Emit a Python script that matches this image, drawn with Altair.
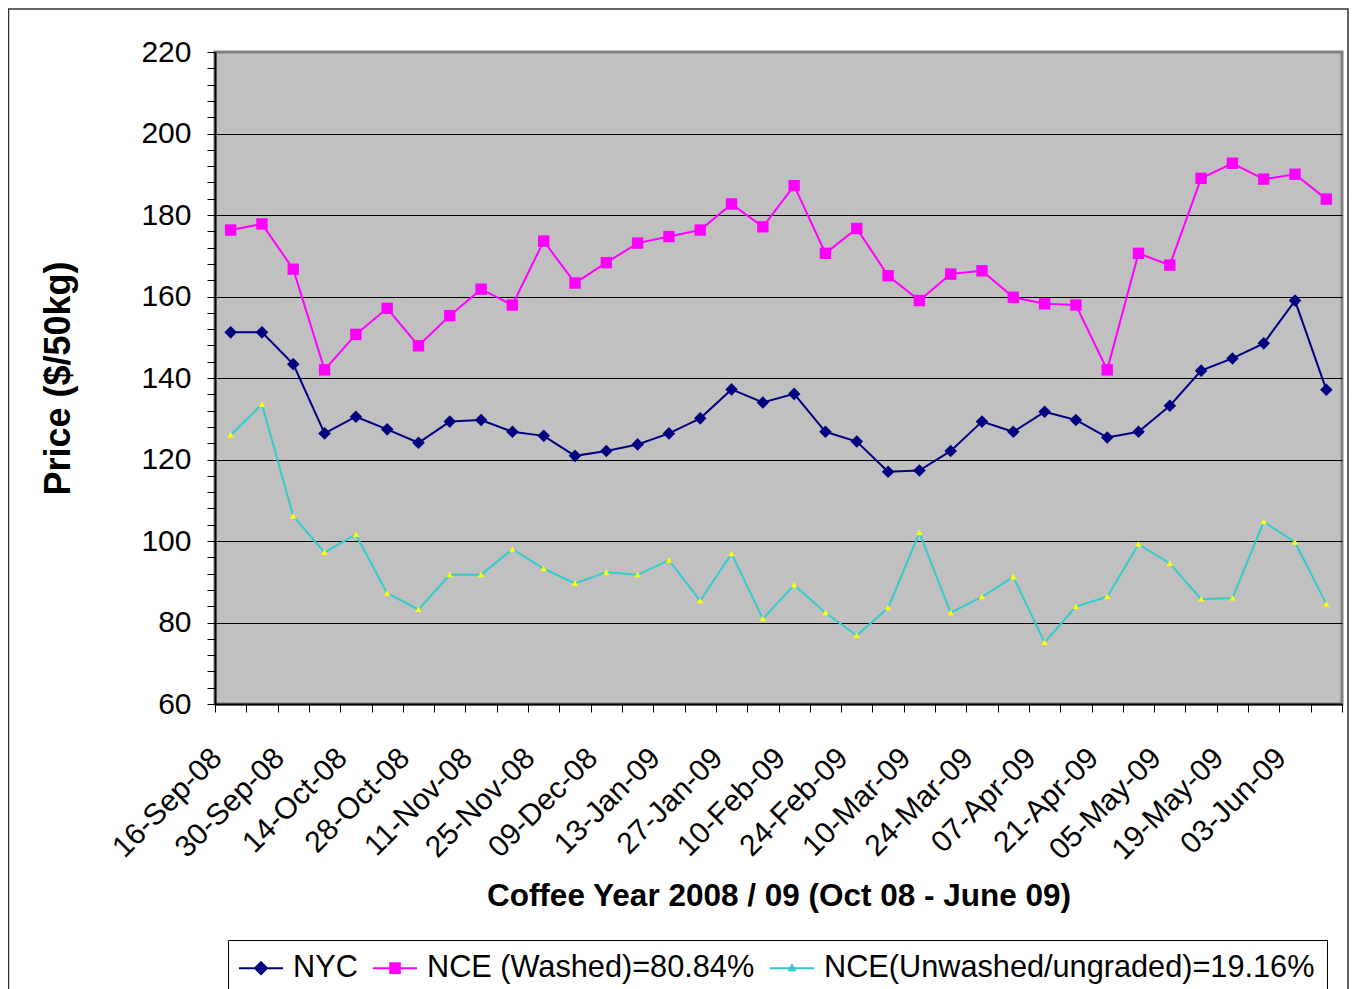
import altair as alt
import pandas as pd

# ---------------- data ----------------
dates = ["16-Sep-08", "23-Sep-08", "30-Sep-08", "07-Oct-08", "14-Oct-08", "21-Oct-08",
         "28-Oct-08", "04-Nov-08", "11-Nov-08", "18-Nov-08", "25-Nov-08", "02-Dec-08",
         "09-Dec-08", "16-Dec-08", "13-Jan-09", "20-Jan-09", "27-Jan-09", "03-Feb-09",
         "10-Feb-09", "17-Feb-09", "24-Feb-09", "03-Mar-09", "10-Mar-09", "17-Mar-09",
         "24-Mar-09", "31-Mar-09", "07-Apr-09", "14-Apr-09", "21-Apr-09", "28-Apr-09",
         "05-May-09", "12-May-09", "19-May-09", "26-May-09", "03-Jun-09", "10-Jun-09"]

shown_labels = ["16-Sep-08", "30-Sep-08", "14-Oct-08", "28-Oct-08", "11-Nov-08", "25-Nov-08",
                "09-Dec-08", "13-Jan-09", "27-Jan-09", "10-Feb-09", "24-Feb-09", "10-Mar-09",
                "24-Mar-09", "07-Apr-09", "21-Apr-09", "05-May-09", "19-May-09", "03-Jun-09"]

nyc = [151.2, 151.2, 143.4, 126.4, 130.5, 127.4, 124.1, 129.3, 129.7, 126.8, 125.8, 120.9,
       122.1, 123.7, 126.4, 130.1, 137.2, 134.0, 136.1, 126.8, 124.4, 117.0, 117.3, 122.1,
       129.3, 126.8, 131.7, 129.7, 125.4, 126.8, 133.2, 141.8, 144.8, 148.5, 159.0, 137.1]

washed = [176.3, 177.8, 166.7, 142.0, 150.7, 157.1, 147.9, 155.3, 161.8, 157.9, 173.6, 163.3,
          168.3, 173.1, 174.7, 176.3, 182.7, 177.1, 187.2, 170.6, 176.7, 165.1, 159.0, 165.5,
          166.3, 159.8, 158.2, 157.9, 142.0, 170.6, 167.7, 189.0, 192.7, 188.8, 190.0, 183.9]

unwashed = [126.0, 133.5, 106.1, 97.2, 101.6, 87.2, 83.2, 91.7, 91.7, 98.0, 93.2, 89.6,
            92.3, 91.7, 95.3, 85.3, 96.9, 80.9, 89.2, 82.4, 76.8, 83.6, 102.0, 82.4,
            86.3, 91.2, 75.1, 83.9, 86.3, 99.2, 94.5, 85.7, 86.0, 104.7, 99.7, 84.5]

series_names = ["NYC", "NCE (Washed)=80.84%", "NCE(Unwashed/ungraded)=19.16%"]
series_values = [nyc, washed, unwashed]

line_colors = ["#000080", "#FF00FF", "#33CCCC"]
marker_colors = ["#000080", "#FF00FF", "#FFFF00"]
marker_paths = [
    "M0,-1.05L1.05,0L0,1.05L-1.05,0Z",
    "M-0.95,-0.95H0.95V0.95H-0.95Z",
    "M0,-0.5L0.52,0.42L-0.52,0.42Z",
]
legend_paths = [
    "M-1.47,0H1.47M0,-0.4L0.4,0L0,0.4L-0.4,0Z",
    "M-1.47,0H1.47M-0.32,-0.32H0.32V0.32H-0.32Z",
    "M-1.47,0H1.47M0,-0.2L0.2,0.14L-0.2,0.14Z",
]

rows = []
for name, vals in zip(series_names, series_values):
    for d, v in zip(dates, vals):
        rows.append({"date": d, "series": name, "value": v})
df = pd.DataFrame(rows)

FONT = "Liberation Sans"

label_list = "[" + ",".join("'" + s + "'" for s in shown_labels) + "]"

x_enc = alt.X(
    "date:N",
    sort=dates,
    scale=alt.Scale(type="band", domain=dates, paddingInner=0, paddingOuter=0),
    axis=alt.Axis(
        title="Coffee Year 2008 / 09 (Oct 08 - June 09)",
        titleFont=FONT, titleFontSize=31.5, titleFontWeight="bold", titleColor="black",
        titleY=192, titleBaseline="middle",
        labelExpr="indexof(" + label_list + ", datum.value) >= 0 ? datum.label : ''",
        labelAngle=315, labelAlign="right", labelBaseline="middle",
        labelOffset=-14, labelPadding=41, labelOverlap=False, labelBound=False,
        labelFont=FONT, labelFontSize=30, labelColor="black",
        tickBand="extent", tickSize=8, tickColor="black", tickWidth=1,
        domainColor="black", domainWidth=2, grid=False,
    ),
)

y_enc = alt.Y(
    "value:Q",
    scale=alt.Scale(domain=[60, 220], nice=False, zero=False),
    axis=alt.Axis(
        title="Price ($/50kg)",
        titleFont=FONT, titleFontSize=36, titleFontWeight="bold", titleColor="black",
        titleAngle=270, titleX=-157, titleY=326, titleBaseline="middle", titleAlign="center",
        values=list(range(60, 221, 4)),
        labelExpr="datum.value % 20 === 0 ? datum.label : ''",
        labelFont=FONT, labelFontSize=30, labelColor="black", labelPadding=16,
        tickSize=8, tickColor="black", tickWidth=1,
        domainColor="black", domainWidth=2,
        grid=True, gridColor="black", gridWidth=1,
        gridOpacity={"condition": {"test": "datum.value % 20 === 0 && datum.value > 60 && datum.value < 220",
                                   "value": 1}, "value": 0},
    ),
)

base = alt.Chart(df)

frame = alt.Chart(alt.Data(values=[{"a": 1}])).mark_rect(
    fillOpacity=0, stroke="#333333", strokeWidth=1.5
).encode(
    x=alt.value(-206.5), x2=alt.value(1133), y=alt.value(-43), y2=alt.value(960)
)

lines = base.mark_line(strokeWidth=2).encode(
    x=x_enc, y=y_enc,
    stroke=alt.Stroke("series:N", scale=alt.Scale(domain=series_names, range=line_colors), legend=None),
)

markers = base.mark_point(filled=True, opacity=1, size=144, strokeWidth=0).encode(
    x=x_enc, y=y_enc,
    fill=alt.Fill("series:N", scale=alt.Scale(domain=series_names, range=marker_colors), legend=None),
    shape=alt.Shape("series:N", scale=alt.Scale(domain=series_names, range=marker_paths), legend=None),
)

leg = alt.Legend(title=None)
legend_layer = base.transform_filter("false").mark_point(filled=True, opacity=1).encode(
    x=x_enc, y=y_enc,
    fill=alt.Fill("series:N", scale=alt.Scale(domain=series_names, range=marker_colors), legend=leg),
    stroke=alt.Stroke("series:N", scale=alt.Scale(domain=series_names, range=line_colors), legend=leg),
    shape=alt.Shape("series:N", scale=alt.Scale(domain=series_names, range=legend_paths), legend=leg),
)

chart = alt.layer(frame, lines, markers, legend_layer).resolve_scale(
    fill="independent", stroke="independent", shape="independent"
).properties(
    width=1127, height=652,
    autosize=alt.AutoSizeParams(type="none"),
    padding={"left": 207, "top": 44, "right": 7, "bottom": 290},
    background="white",
).configure_view(
    fill="#C0C0C0", stroke="#808080", strokeWidth=3
).configure_legend(
    orient="none", legendX=13, legendY=888, direction="horizontal",
    strokeColor="black", fillColor="white", padding=12,
    labelFont=FONT, labelFontSize=30.7, labelColor="black", labelLimit=1000,
    symbolSize=900, symbolStrokeWidth=2, symbolOffset=5,
    labelOffset=16, columnPadding=10,
)

chart.save("out.html", embed_options={"renderer": "svg", "actions": False})
